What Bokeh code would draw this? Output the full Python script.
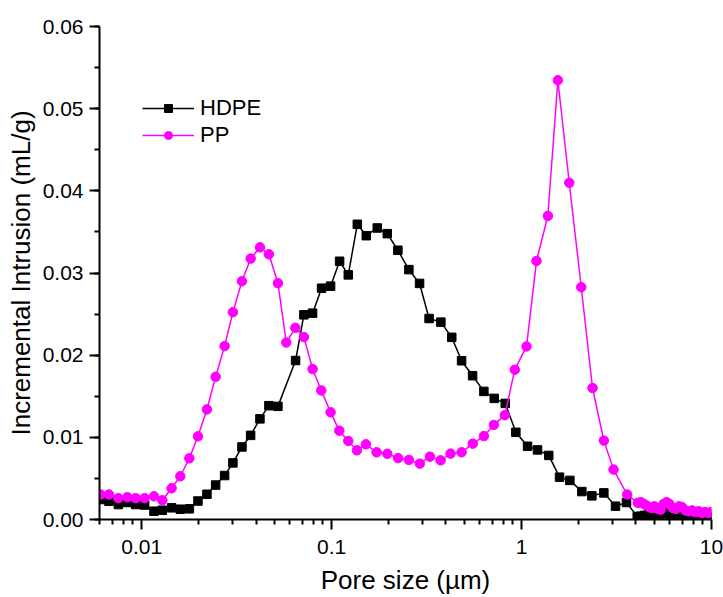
from bokeh.plotting import figure
from bokeh.models import FixedTicker, SingleIntervalTicker, NumeralTickFormatter, Legend, LegendItem, Range1d
from bokeh.embed import file_html
from bokeh.resources import INLINE

hdpe_x = [0.00608, 0.00673, 0.00754, 0.00841, 0.00930, 0.01037, 0.01161, 0.01285, 0.01438, 0.01598,
          0.01783, 0.01979, 0.02207, 0.02452, 0.02734, 0.03023, 0.03373, 0.03748, 0.04195, 0.04677,
          0.05217, 0.06463, 0.07148, 0.07943, 0.08858, 0.09879, 0.1102, 0.1224, 0.1366, 0.1523,
          0.1740, 0.1964, 0.2233, 0.2552, 0.2905, 0.3260, 0.3761, 0.4291, 0.4834, 0.5525,
          0.6333, 0.7184, 0.8208, 0.9333, 1.0755, 1.2137, 1.3907, 1.5849, 1.7958, 2.0772,
          2.3442, 2.7118, 3.1249, 3.5697, 4.0644,
          4.25, 4.45, 4.65, 4.85, 5.05, 5.3, 5.55, 5.8, 6.05, 6.3, 6.6, 6.9, 7.2, 7.5, 7.85,
          8.2, 8.55, 8.9, 9.3, 9.7, 10.0]
hdpe_y = [0.00243, 0.00222, 0.00182, 0.00207, 0.00182, 0.00176, 0.00101, 0.00113, 0.00142, 0.00125,
          0.00130, 0.00225, 0.00307, 0.00419, 0.00535, 0.00689, 0.00883, 0.01024, 0.01225, 0.01385,
          0.01377, 0.01935, 0.02491, 0.02511, 0.02815, 0.02840, 0.03143, 0.02977, 0.03593, 0.03454,
          0.03548, 0.03479, 0.03277, 0.03041, 0.02873, 0.02446, 0.02402, 0.02217, 0.01932, 0.01750,
          0.01559, 0.01474, 0.01413, 0.01061, 0.00891, 0.00847, 0.00780, 0.00515, 0.00476, 0.00340,
          0.00288, 0.00324, 0.00162, 0.00207, 0.00036,
          0.0004, 0.0005, 0.0006, 0.0005, 0.0007, 0.0006, 0.0008, 0.0007, 0.0006, 0.0008, 0.0006,
          0.0005, 0.0006, 0.0004, 0.0005, 0.0004, 0.0003, 0.0004, 0.0003, 0.0002, 0.0003]

pp_x = [0.00608, 0.00673, 0.00754, 0.00841, 0.00930, 0.01037, 0.01161, 0.01285, 0.01438, 0.01598,
        0.01783, 0.01979, 0.02207, 0.02452, 0.02734, 0.03023, 0.03373, 0.03748, 0.04195, 0.04677,
        0.05217, 0.05775, 0.06442, 0.07148, 0.07943, 0.08826, 0.09879, 0.1098, 0.1224, 0.1359,
        0.1516, 0.1725, 0.1964, 0.2239, 0.2552, 0.2912, 0.3292, 0.3747, 0.4229, 0.4834,
        0.5536, 0.6333, 0.7149, 0.8168, 0.9209, 1.0624, 1.1990, 1.3755, 1.5530, 1.7830,
        2.0620, 2.3645, 2.7118, 3.0503, 3.6002, 4.0943,
        4.25, 4.4, 4.55, 4.7, 4.85, 5.0, 5.2, 5.4, 5.6, 5.8, 6.0, 6.25, 6.5, 6.75, 7.0,
        7.3, 7.6, 7.9, 8.2, 8.55, 8.9, 9.25, 9.6, 9.95]
pp_y = [0.00304, 0.00304, 0.00259, 0.00271, 0.00259, 0.00259, 0.00283, 0.00234, 0.00380, 0.00526,
        0.00745, 0.01012, 0.01340, 0.01737, 0.02110, 0.02523, 0.02900, 0.03175, 0.03313, 0.03228,
        0.02876, 0.02154, 0.02333, 0.02220, 0.01831, 0.01571, 0.01304, 0.01081, 0.00956, 0.00842,
        0.00915, 0.00818, 0.00800, 0.00747, 0.00725, 0.00680, 0.00765, 0.00720, 0.00802, 0.00818,
        0.00923, 0.01015, 0.01151, 0.01270, 0.01823, 0.02106, 0.03147, 0.03694, 0.05346, 0.04098,
        0.02827, 0.01600, 0.00960, 0.00608, 0.00304, 0.00203,
        0.0021, 0.0019, 0.0017, 0.0015, 0.0014, 0.0016, 0.0013, 0.0012, 0.0019, 0.0021, 0.0019,
        0.0014, 0.0013, 0.0016, 0.0015, 0.0011, 0.0010, 0.0011, 0.0009, 0.0010, 0.0008, 0.0009,
        0.0008, 0.0009]

x_major = [0.01, 0.1, 1, 10]
x_labels = ["0.01", "0.1", "1", "10"]

FONT = "Liberation Sans"

p = figure(width=723, height=597, x_axis_type="log", output_backend="svg", toolbar_location=None,
           x_range=Range1d(0.006, 10), y_range=Range1d(0, 0.06),
           min_border_left=99, min_border_right=12, min_border_top=26, min_border_bottom=77)
p.xgrid.visible = False
p.ygrid.visible = False
p.outline_line_color = None

minor = []
for dec in [0.001, 0.01, 0.1, 1]:
    for k in range(2, 10):
        minor.append(dec * k)
p.xaxis.ticker = FixedTicker(ticks=x_major, minor_ticks=minor)
p.xaxis.major_label_overrides = {t: l for t, l in zip(x_major, x_labels)}
p.yaxis.ticker = SingleIntervalTicker(interval=0.01, num_minor_ticks=2)
p.yaxis.formatter = NumeralTickFormatter(format="0.00")

for ax in [p.xaxis[0], p.yaxis[0]]:
    ax.axis_line_width = 2
    ax.axis_line_color = "black"
    ax.major_tick_line_width = 2
    ax.minor_tick_line_width = 2
    ax.major_tick_in = 0
    ax.major_tick_out = 10
    ax.minor_tick_in = 0
    ax.minor_tick_out = 5
    ax.major_label_text_font = FONT
    ax.major_label_text_font_size = "21px"
    ax.major_label_text_color = "black"
    ax.axis_label_text_font = FONT
    ax.axis_label_text_font_size = "26px"
    ax.axis_label_text_font_style = "normal"
    ax.axis_label_text_color = "black"

p.xaxis.axis_label = "Pore size (µm)"
p.yaxis.axis_label = "Incremental Intrusion (mL/g)"
p.xaxis.major_label_standoff = 10
p.yaxis.major_label_standoff = 6
p.xaxis.axis_label_standoff = 8
p.yaxis.axis_label_standoff = 4

l1 = p.line(hdpe_x, hdpe_y, line_color="black", line_width=1.5)
s1 = p.scatter(hdpe_x, hdpe_y, marker="square", size=8.5, fill_color="black", line_color="black")
l2 = p.line(pp_x, pp_y, line_color="#FF00FF", line_width=1.5)
s2 = p.scatter(pp_x, pp_y, marker="circle", size=9.5, fill_color="#FF00FF", line_color="#FF00FF")

legend = Legend(items=[LegendItem(label="HDPE", renderers=[l1, s1]),
                       LegendItem(label="PP", renderers=[l2, s2])],
                location=(43, 371), orientation="vertical",
                glyph_width=52, glyph_height=20, label_height=20, spacing=1,
                label_standoff=6, padding=0, margin=0,
                border_line_alpha=0, background_fill_alpha=0,
                label_text_font=FONT, label_text_font_size="22px", label_text_color="black")
p.add_layout(legend, "center")

open("out.html", "w").write(file_html(p, INLINE))
